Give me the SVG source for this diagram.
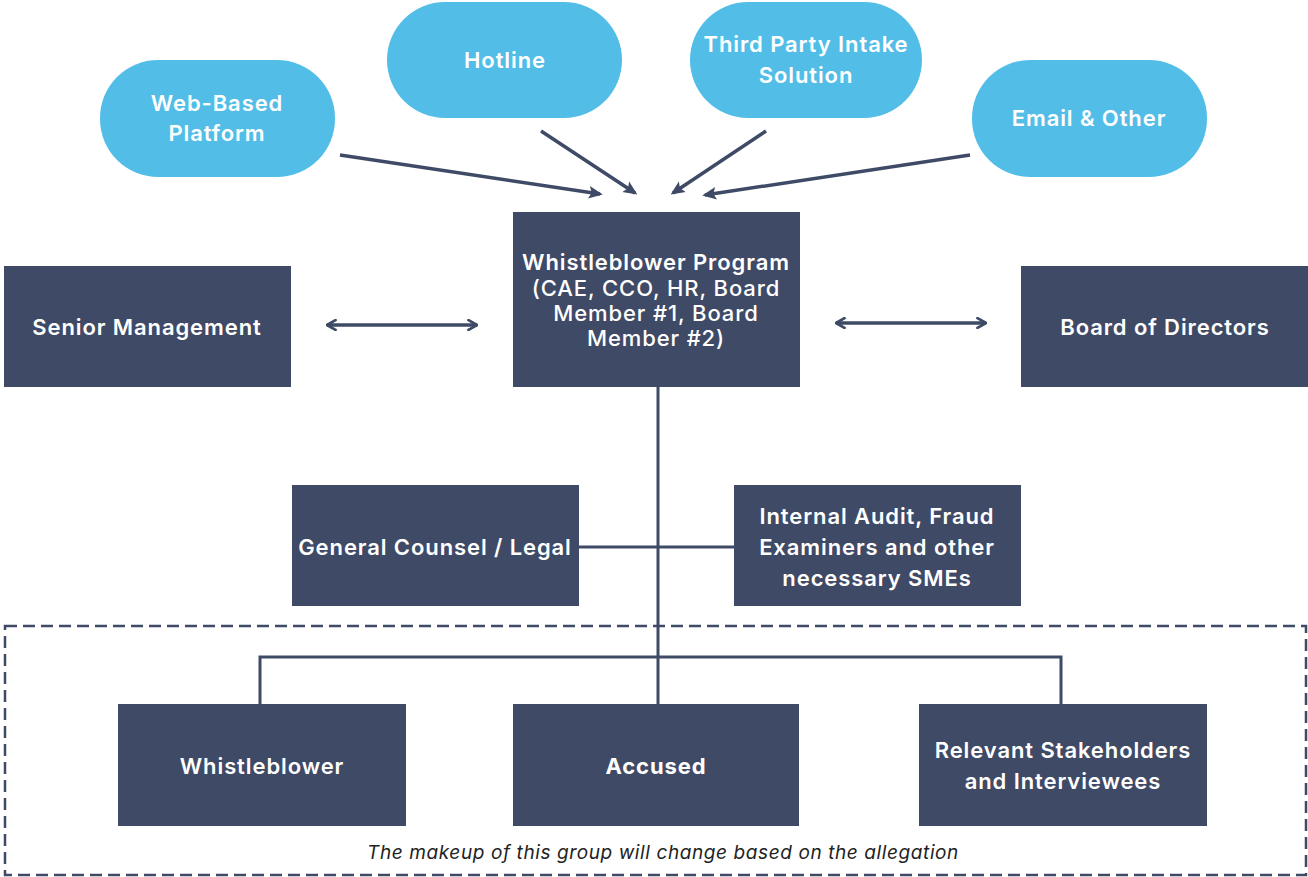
<svg xmlns="http://www.w3.org/2000/svg" width="1308" height="877" viewBox="0 0 1308 877">
<defs>
<style>
.pill{fill:#52BEE8;}
.box{fill:#3F4A66;}
.t{font-family:Inter,"Open Sans","Liberation Sans",sans-serif;font-size:22px;font-weight:600;fill:#ffffff;text-anchor:middle;letter-spacing:0.9px;}
.tr{font-weight:500;}
.tb{font-weight:700;}
.ln{stroke:#3F4A66;stroke-width:3;fill:none;}
.ar{stroke:#3F4A66;stroke-width:3.5;fill:none;}
.note{font-family:Inter,"Open Sans","Liberation Sans",sans-serif;font-size:19px;font-style:italic;fill:#222;text-anchor:middle;letter-spacing:0.6px;}
</style>
<marker id="ah" viewBox="0 0 10 10" refX="8" refY="5" markerWidth="4" markerHeight="4" orient="auto-start-reverse" markerUnits="strokeWidth">
<path d="M0,0.5 L10,5 L0,9.5 L2,5 Z" fill="#3F4A66"/>
</marker>
<marker id="dh" viewBox="0 0 10 10" refX="9" refY="5" markerWidth="3.5" markerHeight="3.5" orient="auto-start-reverse" markerUnits="strokeWidth">
<path d="M2,1 L9,5 L2,9" fill="none" stroke="#3F4A66" stroke-width="2.2" stroke-linecap="round" stroke-linejoin="round"/>
</marker>
</defs>
<rect width="1308" height="877" fill="#ffffff"/>

<g id="group-box">
<rect x="5" y="626" width="1301" height="249" fill="none" stroke="#3F4A66" stroke-width="2.5" stroke-dasharray="12,6"/>
<text class="note" x="663" y="859">The makeup of this group will change based on the allegation</text>
</g>

<g id="connectors">
<line class="ar" x1="340" y1="155" x2="600" y2="194" marker-end="url(#ah)"/>
<line class="ar" x1="541" y1="131" x2="635" y2="193" marker-end="url(#ah)"/>
<line class="ar" x1="766" y1="131" x2="673" y2="193" marker-end="url(#ah)"/>
<line class="ar" x1="970" y1="155" x2="705" y2="195" marker-end="url(#ah)"/>
<line class="ar" x1="327" y1="325" x2="477" y2="325" marker-start="url(#dh)" marker-end="url(#dh)"/>
<line class="ar" x1="836" y1="323" x2="986" y2="323" marker-start="url(#dh)" marker-end="url(#dh)"/>
<line class="ln" x1="658" y1="387" x2="658" y2="704"/>
<line class="ln" x1="579" y1="547" x2="734" y2="547"/>
<polyline class="ln" points="260,704 260,657 1061,657 1061,704"/>
</g>

<g id="web-based-platform">
<rect class="pill" x="100" y="60" width="235" height="117" rx="58" ry="58"/>
<text class="t" x="217" y="111">Web-Based</text>
<text class="t" x="217" y="141">Platform</text>
</g>
<g id="hotline">
<rect class="pill" x="387" y="2" width="235" height="116" rx="58" ry="58"/>
<text class="t" x="505" y="68">Hotline</text>
</g>
<g id="third-party">
<rect class="pill" x="690" y="2" width="232" height="116" rx="58" ry="58"/>
<text class="t" x="806" y="52">Third Party Intake</text>
<text class="t" x="806" y="83">Solution</text>
</g>
<g id="email-other">
<rect class="pill" x="972" y="60" width="235" height="117" rx="58" ry="58"/>
<text class="t" x="1089" y="126">Email &amp; Other</text>
</g>

<g id="whistleblower-program">
<rect class="box" x="513" y="212" width="287" height="175"/>
<text class="t" x="656" y="270">Whistleblower Program</text>
<text class="t tr" x="656" y="296">(CAE, CCO, HR, Board</text>
<text class="t tr" x="656" y="321">Member #1, Board</text>
<text class="t tr" x="656" y="346">Member #2)</text>
</g>
<g id="senior-management">
<rect class="box" x="4" y="266" width="287" height="121"/>
<text class="t" x="147" y="335">Senior Management</text>
</g>
<g id="board-of-directors">
<rect class="box" x="1021" y="266" width="287" height="121"/>
<text class="t" x="1165" y="335">Board of Directors</text>
</g>
<g id="general-counsel">
<rect class="box" x="292" y="485" width="287" height="121"/>
<text class="t" x="435" y="555">General Counsel / Legal</text>
</g>
<g id="internal-audit">
<rect class="box" x="734" y="485" width="287" height="121"/>
<text class="t" x="877" y="524">Internal Audit, Fraud</text>
<text class="t" x="877" y="555">Examiners and other</text>
<text class="t" x="877" y="586">necessary SMEs</text>
</g>
<g id="whistleblower">
<rect class="box" x="118" y="704" width="288" height="122"/>
<text class="t" x="262" y="774">Whistleblower</text>
</g>
<g id="accused">
<rect class="box" x="513" y="704" width="286" height="122"/>
<text class="t tb" x="656" y="774">Accused</text>
</g>
<g id="relevant-stakeholders">
<rect class="box" x="919" y="704" width="288" height="122"/>
<text class="t" x="1063" y="758">Relevant Stakeholders</text>
<text class="t" x="1063" y="789">and Interviewees</text>
</g>
</svg>
